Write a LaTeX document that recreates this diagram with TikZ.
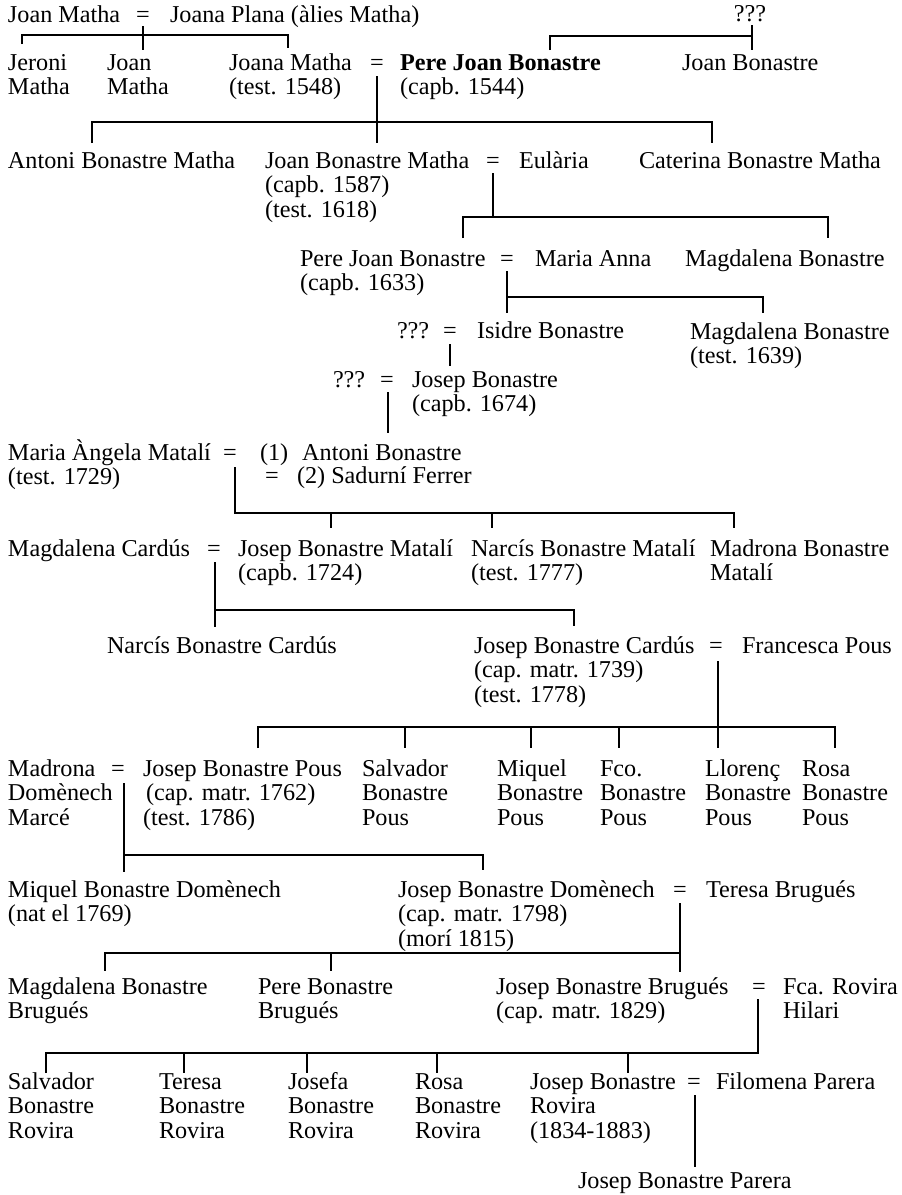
\documentclass[tikz,border=0pt]{standalone}
\usepackage{fontspec}
\setmainfont{Liberation Serif}
\newcommand\mlines[1]{\begin{tabular}[t]{@{}l@{}}#1\end{tabular}}
\begin{document}
\begin{tikzpicture}[x=1pt,y=-1pt,
  txt/.style={anchor=base west,inner sep=0pt,outer sep=0pt,font=\fontsize{24.2}{24.5}\selectfont},
  eqs/.style={anchor=base,inner sep=0pt,outer sep=0pt,font=\fontsize{24.2}{24.5}\selectfont},
  conn/.style={line width=1.1pt,black}]
\fill[white] (0,0) rectangle (902,1195);
\useasboundingbox (0,0) rectangle (902,1195);

% Row A
\node[txt] (jm) at (8,22) {Joan Matha};
\node[eqs] (eqA) at (143,22) {=};
\node[txt] (jp) at (170,22) {Joana Plana (àlies Matha)};
\node[eqs] (q1) at (750,21) {???};

% Row B
\node[txt] (jer) at (8,70) {\mlines{Jeroni\\Matha}};
\node[txt] (jnm) at (107,70) {\mlines{Joan\\Matha}};
\node[txt] (jam) at (229,70) {\mlines{Joana Matha\\(test. 1548)}};
\node[eqs] (eqB) at (377,70) {=};
\node[txt] (pjb) at (400,70) {\mlines{\textbf{Pere Joan Bonastre}\\(capb. 1544)}};
\node[txt] (jbo) at (682,70) {Joan Bonastre};

% Row C
\node[txt] (abm) at (8,168) {Antoni Bonastre Matha};
\node[txt] (jbm) at (265,168) {\mlines{Joan Bonastre Matha\\(capb. 1587)\\(test. 1618)}};
\node[eqs] (eqC) at (493,168) {=};
\node[txt] (eul) at (519,168) {Eulària};
\node[txt] (cbm) at (639,168) {Caterina Bonastre Matha};

% Row D
\node[txt] (pjb2) at (300,266) {\mlines{Pere Joan Bonastre\\(capb. 1633)}};
\node[eqs] (eqD) at (507,266) {=};
\node[txt] (man) at (535,266) {Maria Anna};
\node[txt] (mgb) at (685,266) {Magdalena Bonastre};

% Row E
\node[txt] (q2) at (397,338) {???};
\node[eqs] (eqE) at (450,338) {=};
\node[txt] (isb) at (477,338) {Isidre Bonastre};
\node[txt] (mgb2) at (690,339) {\mlines{Magdalena Bonastre\\(test. 1639)}};

% Row F
\node[txt] (q3) at (333,387) {???};
\node[eqs] (eqF) at (387,387) {=};
\node[txt] (jsb) at (412,387) {\mlines{Josep Bonastre\\(capb. 1674)}};

% Row G
\node[txt] (mam) at (8,460) {\mlines{Maria Àngela Matalí\\(test. 1729)}};
\node[eqs] (eqG) at (230,460) {=};
\node[txt] (ant) at (260,460) {(1)\hspace{14pt}Antoni Bonastre};
\node[eqs] (eqG2) at (272,483) {=};
\node[txt] (sad) at (297,483) {(2) Sadurní Ferrer};

% Row H
\node[txt] (mca) at (8,556) {Magdalena Cardús};
\node[eqs] (eqH) at (214,556) {=};
\node[txt] (jbma) at (238,556) {\mlines{Josep Bonastre Matalí\\(capb. 1724)}};
\node[txt] (nbm) at (471,556) {\mlines{Narcís Bonastre Matalí\\(test. 1777)}};
\node[txt] (mbm) at (710,556) {\mlines{Madrona Bonastre\\Matalí}};

% Row I
\node[txt] (nbc) at (107,653) {Narcís Bonastre Cardús};
\node[txt] (jbc) at (474,653) {\mlines{Josep Bonastre Cardús\\(cap. matr. 1739)\\(test. 1778)}};
\node[eqs] (eqI) at (716,653) {=};
\node[txt] (fpo) at (742,653) {Francesca Pous};

% Row J
\node[txt] (mdm) at (8,776) {\mlines{Madrona\\Domènech\\Marcé}};
\node[eqs] (eqJ) at (118,776) {=};
\node[txt] (jbp) at (143,776) {\mlines{Josep Bonastre Pous\\\hspace{3pt}(cap. matr. 1762)\\(test. 1786)}};
\node[txt] (sbp) at (362,776) {\mlines{Salvador\\Bonastre\\Pous}};
\node[txt] (mbp) at (497,776) {\mlines{Miquel\\Bonastre\\Pous}};
\node[txt] (fbp) at (600,776) {\mlines{Fco.\\Bonastre\\Pous}};
\node[txt] (lbp) at (705,776) {\mlines{Llorenç\\Bonastre\\Pous}};
\node[txt] (rbp) at (802,776) {\mlines{Rosa\\Bonastre\\Pous}};

% Row K
\node[txt] (mbd) at (8,897) {\mlines{Miquel Bonastre Domènech\\(nat el 1769)}};
\node[txt] (jbd) at (398,897) {\mlines{Josep Bonastre Domènech\\(cap. matr. 1798)\\(morí 1815)}};
\node[eqs] (eqK) at (680,897) {=};
\node[txt] (tbu) at (706,897) {Teresa Brugués};

% Row L
\node[txt] (mbb) at (8,994) {\mlines{Magdalena Bonastre\\Brugués}};
\node[txt] (pbb) at (258,994) {\mlines{Pere Bonastre\\Brugués}};
\node[txt] (jbb) at (496,994) {\mlines{Josep Bonastre Brugués\\(cap. matr. 1829)}};
\node[eqs] (eqL) at (759,994) {=};
\node[txt] (fro) at (783,994) {\mlines{Fca. Rovira\\Hilari}};

% Row M
\node[txt] (sbr) at (8,1089) {\mlines{Salvador\\Bonastre\\Rovira}};
\node[txt] (tbr) at (159,1089) {\mlines{Teresa\\Bonastre\\Rovira}};
\node[txt] (jfb) at (288,1089) {\mlines{Josefa\\Bonastre\\Rovira}};
\node[txt] (rbr) at (415,1089) {\mlines{Rosa\\Bonastre\\Rovira}};
\node[txt] (jbr) at (530,1089) {\mlines{Josep Bonastre\\Rovira\\(1834-1883)}};
\node[eqs] (eqM) at (694,1089) {=};
\node[txt] (fpa) at (716,1089) {Filomena Parera};

% Row N
\node[txt] (jbpa) at (578,1188) {Josep Bonastre Parera};

% ---- connectors ----
% Joan Matha = Joana Plana
\coordinate (a0) at (143,26); \coordinate (a1) at (143,50);
\coordinate (a2) at (22,35);  \coordinate (a3) at (22,44);
\coordinate (a4) at (288,35); \coordinate (a5) at (288,48);
\draw[conn] (a0) -- (a1);
\draw[conn] (a3) -- (a2) -- (a4) -- (a5);
% ??? family
\coordinate (b0) at (752,25); \coordinate (b1) at (752,50);
\coordinate (b2) at (550,36); \coordinate (b3) at (550,50); \coordinate (b4) at (752,36);
\draw[conn] (b0) -- (b1);
\draw[conn] (b3) -- (b2) -- (b4);
% Joana Matha = Pere Joan Bonastre
\coordinate (c0) at (377,76); \coordinate (c1) at (377,143);
\coordinate (c2) at (92,122); \coordinate (c3) at (92,143);
\coordinate (c4) at (712,122); \coordinate (c5) at (712,143);
\draw[conn] (c0) -- (c1);
\draw[conn] (c3) -- (c2) -- (c4) -- (c5);
% Joan Bonastre Matha = Eularia
\coordinate (d0) at (493,173); \coordinate (d1) at (493,217);
\coordinate (d2) at (463,238); \coordinate (d3) at (463,217);
\coordinate (d4) at (828,217); \coordinate (d5) at (828,238);
\draw[conn] (d0) -- (d1);
\draw[conn] (d2) -- (d3) -- (d4) -- (d5);
% Pere Joan Bonastre = Maria Anna
\coordinate (e0) at (507,271); \coordinate (e1) at (507,313);
\coordinate (e2) at (507,297); \coordinate (e3) at (763,297); \coordinate (e4) at (763,313);
\draw[conn] (e0) -- (e1);
\draw[conn] (e2) -- (e3) -- (e4);
% ??? = Isidre
\coordinate (f0) at (450,344); \coordinate (f1) at (450,366);
\draw[conn] (f0) -- (f1);
% ??? = Josep
\coordinate (g0) at (388,392); \coordinate (g1) at (388,433);
\draw[conn] (g0) -- (g1);
% Maria Angela = Antoni
\coordinate (h0) at (235,467); \coordinate (h1) at (235,513); \coordinate (h2) at (734,513);
\coordinate (h3) at (734,528); \coordinate (h4) at (331,513); \coordinate (h5) at (331,528);
\coordinate (h6) at (492,513); \coordinate (h7) at (492,528);
\draw[conn] (h0) -- (h1) -- (h2) -- (h3);
\draw[conn] (h4) -- (h5);
\draw[conn] (h6) -- (h7);
% Magdalena Cardus = Josep Bonastre Matali
\coordinate (i0) at (215,562); \coordinate (i1) at (215,627);
\coordinate (i2) at (215,610); \coordinate (i3) at (574,610); \coordinate (i4) at (574,626);
\draw[conn] (i0) -- (i1);
\draw[conn] (i2) -- (i3) -- (i4);
% Josep Bonastre Cardus = Francesca Pous
\coordinate (j0) at (718,661); \coordinate (j1) at (718,748);
\coordinate (j2) at (258,748); \coordinate (j3) at (258,727);
\coordinate (j4) at (835,727); \coordinate (j5) at (835,748);
\coordinate (j6) at (405,727); \coordinate (j7) at (405,748);
\coordinate (j8) at (531,727); \coordinate (j9) at (531,748);
\coordinate (j10) at (619,727); \coordinate (j11) at (619,748);
\draw[conn] (j0) -- (j1);
\draw[conn] (j2) -- (j3) -- (j4) -- (j5);
\draw[conn] (j6) -- (j7);
\draw[conn] (j8) -- (j9);
\draw[conn] (j10) -- (j11);
% Madrona = Josep Bonastre Pous
\coordinate (k0) at (124,783); \coordinate (k1) at (124,872);
\coordinate (k2) at (124,855); \coordinate (k3) at (483,855); \coordinate (k4) at (483,870);
\draw[conn] (k0) -- (k1);
\draw[conn] (k2) -- (k3) -- (k4);
% Josep Bonastre Domenech = Teresa Brugues
\coordinate (l0) at (680,903); \coordinate (l1) at (680,972);
\coordinate (l2) at (680,953); \coordinate (l3) at (105,953); \coordinate (l4) at (105,971);
\coordinate (l5) at (331,953); \coordinate (l6) at (331,971);
\draw[conn] (l0) -- (l1);
\draw[conn] (l2) -- (l3) -- (l4);
\draw[conn] (l5) -- (l6);
% Josep Bonastre Brugues = Fca. Rovira
\coordinate (m0) at (758,999); \coordinate (m1) at (758,1053);
\coordinate (m2) at (46,1053); \coordinate (m3) at (46,1073);
\coordinate (m4) at (184,1053); \coordinate (m5) at (184,1073);
\coordinate (m6) at (307,1053); \coordinate (m7) at (307,1073);
\coordinate (m8) at (437,1053); \coordinate (m9) at (437,1073);
\coordinate (m10) at (628,1053); \coordinate (m11) at (628,1073);
\draw[conn] (m0) -- (m1) -- (m2) -- (m3);
\draw[conn] (m4) -- (m5);
\draw[conn] (m6) -- (m7);
\draw[conn] (m8) -- (m9);
\draw[conn] (m10) -- (m11);
% Josep Bonastre = Filomena Parera
\coordinate (n0) at (695,1095); \coordinate (n1) at (695,1167);
\draw[conn] (n0) -- (n1);
\end{tikzpicture}
\end{document}
